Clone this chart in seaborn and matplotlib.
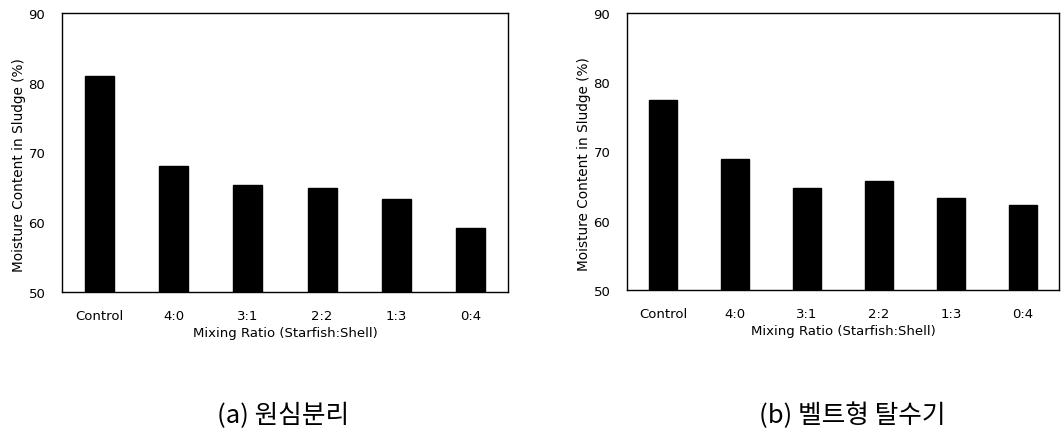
import matplotlib
matplotlib.use("Agg")
import matplotlib.pyplot as plt
import seaborn as sns
import pandas as pd

categories = ["Control", "4:0", "3:1", "2:2", "1:3", "0:4"]
values_a = [81.0, 68.1, 65.4, 64.9, 63.4, 59.2]
values_b = [77.5, 68.9, 64.8, 65.7, 63.3, 62.3]
yticks = [50, 60, 70, 80, 90]
caption_a = "(a) 원심분리"
caption_b = "(b) 벨트형 탈수기"
xlabel = "Mixing Ratio (Starfish:Shell)"
ylabel = "Moisture Content in Sludge (%)"

sns.set_theme(style="white")
plt.rcParams['font.family'] = ['DejaVu Sans']

W, H = 1063, 435
fig = plt.figure(figsize=(W / 100, H / 100), dpi=100)

def px_axes(x0, y0, x1, y1):
    return fig.add_axes([x0 / W, 1 - y1 / H, (x1 - x0) / W, (y1 - y0) / H])

ax_a = px_axes(62, 14, 508, 293)
ax_b = px_axes(627, 14, 1059, 291)

for ax, vals, cap, cx, lx in [(ax_a, values_a, caption_a, 283, -0.08),
                              (ax_b, values_b, caption_b, 852, -0.084)]:
    df = pd.DataFrame({"ratio": categories, "value": vals})
    sns.barplot(data=df, x="ratio", y="value", color="black", width=0.39,
                saturation=1, ax=ax, edgecolor="black")
    ax.set_ylim(50, 90)
    ax.set_xlim(-0.5, 5.5)
    ax.set_yticks(yticks)
    ax.tick_params(axis="y", length=0, labelsize=9.5, colors="black", pad=12)
    ax.tick_params(axis="x", length=0, labelsize=9.5, colors="black", pad=12)
    ax.set_xlabel(xlabel, fontsize=9.5, color="black", labelpad=3)
    ax.set_ylabel(ylabel, fontsize=9.8, color="black", labelpad=3)
    ax.yaxis.set_label_coords(lx, 0.46)
    for s in ax.spines.values():
        s.set_visible(True)
        s.set_color("black")
        s.set_linewidth(1.0)
    fig.text(cx / W, 1 - 416 / H, cap, ha="center", va="center",
             fontsize=18.5, family=['Noto Sans CJK KR', 'DejaVu Sans'], color="black")

fig.savefig("out.png", dpi=100, facecolor="white")
